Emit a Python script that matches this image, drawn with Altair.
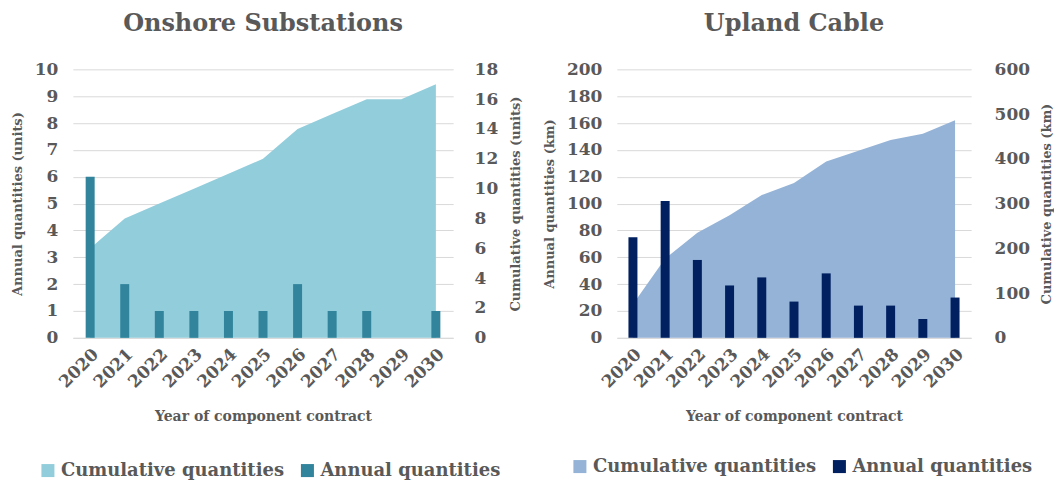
import altair as alt
import pandas as pd

years = [str(y) for y in range(2020, 2031)]
sub_annual = [6, 2, 1, 1, 1, 1, 2, 1, 1, 0, 1]
sub_cum = [6, 8, 9, 10, 11, 12, 14, 15, 16, 16, 17]
cab_annual = [75, 102, 58, 39, 45, 27, 48, 24, 24, 14, 30]
cab_cum = [75, 177, 235, 274, 319, 346, 394, 418, 442, 456, 486]
series = ["Cumulative quantities", "Annual quantities"]

FONT = "DejaVu Serif"
GREY = "#595959"


def panel(title, annual, cum, unit, lmax, lstep, rmax, rstep, area_c, bar_c, width,
          lx, ly, rpad, rtpad):
    df = pd.DataFrame({"year": years, "annual": annual, "cum": cum,
                       "s_cum": series[0], "s_ann": series[1]})
    x = alt.X("year:O", title="Year of component contract",
              scale=alt.Scale(paddingInner=0, paddingOuter=0),
              axis=alt.Axis(labelAngle=-45, labelFontSize=17, titleFontSize=14,
                            titlePadding=19, domain=True, domainColor="#d9d9d9",
                            ticks=False, labelPadding=8))
    color = alt.Scale(domain=series, range=[area_c, bar_c])
    legend = alt.Legend(title=None, orient="none", legendX=lx, legendY=ly,
                        direction="horizontal", symbolType="square", symbolSize=170,
                        labelFontSize=18, labelFontWeight="bold", labelColor=GREY,
                        columnPadding=14, labelLimit=400, labelOffset=4)
    area = alt.Chart(df).mark_area(opacity=1).encode(
        x=x,
        y=alt.Y("cum:Q", title=f"Cumulative quantities ({unit})",
                scale=alt.Scale(domain=[0, rmax], nice=False),
                axis=alt.Axis(orient="right", values=list(range(0, rmax + 1, rstep)),
                              grid=False, domain=False, ticks=False, labelPadding=rpad,
                              titleAngle=270, titleBaseline="top", titlePadding=rtpad,
                              labelFontSize=17, titleFontSize=13)),
        color=alt.Color("s_cum:N", scale=color, legend=legend),
    )
    bars = alt.Chart(df).mark_bar(size=9).encode(
        x=x,
        y=alt.Y("annual:Q", title=f"Annual quantities ({unit})",
                scale=alt.Scale(domain=[0, lmax], nice=False),
                axis=alt.Axis(orient="left", values=list(range(0, lmax + 1, lstep)),
                              grid=True, gridColor="#d9d9d9", domain=False, ticks=False,
                              labelPadding=15, titlePadding=10, labelFontSize=17,
                              titleFontSize=13)),
        color=alt.Color("s_ann:N", scale=color, legend=legend),
    )
    return alt.layer(area, bars).resolve_scale(y="independent").properties(
        width=width, height=269,
        title=alt.Title(title, fontSize=24, color=GREY, font=FONT,
                        fontWeight="bold", anchor="middle", offset=24),
    )


left = panel("Onshore Substations", sub_annual, sub_cum, "units", 10, 1, 18, 2,
             "#92CDDC", "#31849B", 381, -34, 393, 21, 12)
right = panel("Upland Cable", cab_annual, cab_cum, "km", 200, 20, 600, 100,
              "#95B3D7", "#002060", 355, -46, 389, 23, 11)

chart = alt.hconcat(left, right, spacing=20).resolve_scale(color="independent").properties(
    padding={"left": 3, "top": 4, "right": 0, "bottom": 0},
).configure(
    font=FONT,
).configure_axis(
    labelColor=GREY, titleColor=GREY, labelFontWeight="bold", titleFontWeight="bold",
    labelFont=FONT, titleFont=FONT,
).configure_view(stroke=None)

chart.save("out.html", embed_options={"renderer": "svg", "actions": False})
